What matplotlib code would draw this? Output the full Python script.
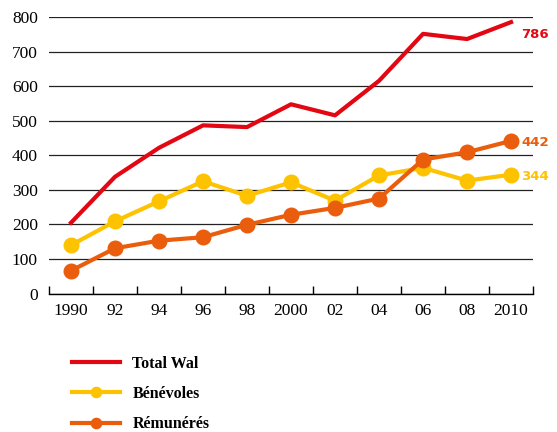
import matplotlib.pyplot as plt

# Values
years = [1990, 1992, 1994, 1996, 1998, 2000, 2002, 2004, 2006, 2008, 2010]
year_labels = ["1990", "92", "94", "96", "98", "2000", "02", "04", "06", "08", "2010"]
total_wal = [205, 338, 422, 487, 482, 548, 516, 616, 752, 737, 786]
benevoles = [140, 209, 267, 325, 283, 322, 269, 342, 364, 327, 344]
remuneres = [66, 131, 153, 163, 199, 228, 248, 275, 388, 409, 442]

red = "#e30613"
yellow = "#fdc300"
orange = "#ea5d0d"

plt.rcParams["font.family"] = ["Liberation Serif", "DejaVu Serif"]

fig = plt.figure(figsize=(5.57, 4.32), dpi=100)
ax = fig.add_axes([0.088, 0.3206, 0.869, 0.6394])

ax.plot(years, total_wal, color=red, lw=3, label="Total Wal", zorder=3)
ax.plot(years, benevoles, color=yellow, lw=3, marker="o", ms=10.5,
        label="Bénévoles", zorder=3)
ax.plot(years, remuneres, color=orange, lw=3, marker="o", ms=10.5,
        label="Rémunérés", zorder=4)

# End labels (the total one sits a little below the line end)
for series, col, dy in [(total_wal, red, -9), (benevoles, yellow, -1.5),
                        (remuneres, orange, -1.5)]:
    ax.annotate(str(series[-1]), (years[-1], series[-1]), xytext=(7.5, dy),
                textcoords="offset points", color=col, fontsize=9.5,
                fontweight="bold", family="DejaVu Sans", va="center",
                ha="left", annotation_clip=False)

ax.set_xlim(1989, 2011)
ax.set_ylim(0, 800)
ax.set_yticks(range(0, 801, 100))
ax.yaxis.grid(True, color="#222222", lw=0.9)
ax.set_axisbelow(True)

ax.set_xticks(range(1989, 2012, 2))
ax.set_xticklabels([])
ax.set_xticks(years, minor=True)
ax.set_xticklabels(year_labels, minor=True)
ax.tick_params(axis="x", which="major", direction="in", length=6, width=1)
ax.tick_params(axis="x", which="minor", length=0, pad=7, labelsize=12.5)
ax.tick_params(axis="y", length=0, pad=8, labelsize=12.5)

for side in ["top", "right", "left"]:
    ax.spines[side].set_visible(False)
ax.spines["bottom"].set_linewidth(1)

leg = ax.legend(loc="upper left", bbox_to_anchor=(0.103, 0.21),
                bbox_transform=fig.transFigure, frameon=False,
                handlelength=3.0, handletextpad=0.8, labelspacing=0.9,
                markerscale=0.7, prop={"weight": "bold", "size": 11.5})

plt.savefig("out.png", dpi=100)
